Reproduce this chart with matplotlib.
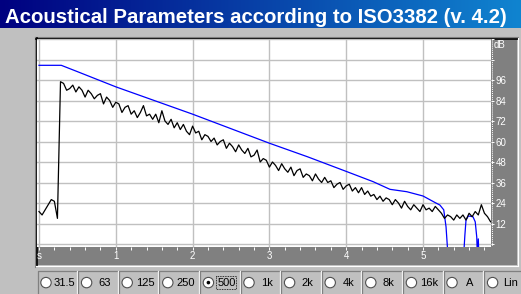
import matplotlib
matplotlib.use("Agg")
import matplotlib.pyplot as plt
import numpy as np
from matplotlib.patches import Rectangle, Circle
from matplotlib.colors import LinearSegmentedColormap

W, H = 521, 294

title = "Acoustical Parameters according to ISO3382 (v. 4.2)"

# impulse response level (dB), one value every 0.04 s
step = 0.04
level_db = [
    19, 17, 20, 23, 26, 25, 15,
    95, 94, 90, 91, 93, 89, 92, 90, 86, 90,
    88, 85, 87, 88, 82, 86, 84, 80, 83, 82,
    77, 80, 81, 76, 78, 74, 77, 81, 75, 76,
    73, 76, 71, 78, 72, 70, 73, 68, 71, 67,
    70, 66, 64, 69, 65, 66, 61, 64, 63, 60,
    62, 58, 60, 61, 56, 59, 57, 54, 58, 55,
    53, 56, 51, 52, 55, 48, 50, 49, 45, 48,
    46, 43, 47, 44, 42, 45, 40, 43, 44, 39,
    41, 40, 37, 41, 38, 36, 39, 36, 37, 33,
    35, 36, 32, 34, 35, 31, 33, 30, 33, 29,
    31, 28, 29, 26, 28, 25, 27, 26, 23, 26,
    24, 21, 25, 22, 20, 23, 21, 19, 23, 20,
    21, 19, 22, 20, 18, 15, 17, 16, 14, 17,
    15, 17, 14, 18, 16, 19, 17, 23, 18, 16,
    13,
]
level_t = np.arange(len(level_db)) * step

# backward integrated (Schroeder) curve
schroeder_t = [0.0, 0.29, 0.5, 1.0, 1.5, 2.0, 2.5, 3.0, 3.5, 4.0, 4.35, 4.57,
               4.79, 5.0, 5.16, 5.22, 5.27, 5.30, 5.33, np.nan,
               5.525, 5.545, 5.56, 5.59, 5.65, 5.68, 5.70, 5.71, 5.72, 5.73]
schroeder_db = [104.6, 104.6, 100.9, 92, 84, 76, 67.5, 59, 51, 42.5, 36.5, 32,
                30.6, 28.1, 24.2, 22.8, 20, 10, -10, np.nan,
                -10, 5, 14, 16.4, 16, 13, 4, -10, 3, -10]

db_ticks = [0, 12, 24, 36, 48, 60, 72, 84, 96, 108, 120]
db_labels = ["", "12", "24", "36", "48", "60", "72", "84", "96", "", ""]
sec_ticks = [0, 1, 2, 3, 4, 5]
sec_labels = ["s", "1", "2", "3", "4", "5"]

bands = ["31.5", "63", "125", "250", "500", "1k", "2k", "4k", "8k", "16k", "A", "Lin"]
selected = "500"

plt.rcParams["font.family"] = ["Liberation Sans", "DejaVu Sans"]

fig = plt.figure(figsize=(W / 100, H / 100), dpi=100)
fig.patch.set_facecolor("#c0c0c0")

# pixel-space layer for the window decorations
bg = fig.add_axes([0, 0, 1, 1], zorder=0)
bg.axis("off")
grad = LinearSegmentedColormap.from_list("bar", ["#000080", "#1084d0"])
bg.imshow(np.linspace(0, 1, 256)[None, :], extent=[0, W, 28, 0], cmap=grad,
          aspect="auto")
bg.set_xlim(0, W)
bg.set_ylim(H, 0)

ttl = bg.text(5, 23.3, title, color="white", fontweight="bold", fontsize=14.5,
              va="baseline", ha="left")

# sunken panel frame and axis strips
bg.add_patch(Rectangle((491, 39), 26, 226, fc="#808080", ec="none"))
bg.add_patch(Rectangle((36, 247), 481, 18, fc="#808080", ec="none"))
bg.plot([35, 35], [37, 267], color="#808080", lw=0.8)
bg.plot([35, 518], [37, 37], color="#808080", lw=0.8)
bg.plot([36.5, 36.5], [38, 266], color="black", lw=1.2)
bg.plot([36, 518], [38.5, 38.5], color="black", lw=1.2)
bg.plot([36, 518], [266, 266], color="white", lw=0.8)
bg.plot([517.5, 517.5], [38, 266], color="white", lw=0.8)
bg.plot([492, 492], [40, 246], color="white", lw=0.7, ls=(0, (1, 1)))
bg.text(494, 45, "dB", color="white", fontsize=7, va="center", ha="left")

# radio button row
box_w = 40.6
cy = 282.6
for i, name in enumerate(bands):
    x0 = 37.5 + i * box_w
    x1 = x0 + box_w - 1
    bg.plot([x0, x0, x1], [295, 271, 271], color="#808080", lw=0.9)
    bg.plot([x1, x1], [271, 295], color="white", lw=0.9)
    cx = x0 + 8.5
    bg.add_patch(Circle((cx, cy), 5.2, fc="white", ec="#505050", lw=0.8))
    if name == selected:
        bg.add_patch(Circle((cx, cy), 1.8, fc="black", ec="none"))
    tx = (cx + 5 + x1) / 2
    bg.text(tx, cy + 0.3, name, ha="center", va="center", fontsize=8, color="black")
    if name == selected:
        bg.add_patch(Rectangle((tx - 10, cy - 6.2), 20, 12.5, fill=False, ec="black",
                               lw=0.6, ls=(0, (1, 1))))

# chart
ax = fig.add_axes([37 / W, 1 - 247 / H, (491 - 37) / W, (247 - 38.5) / H], zorder=1)
ax.set_facecolor("white")
ax.plot(schroeder_t, schroeder_db, color="#0000ff", lw=0.9)
ax.plot(level_t, level_db, color="black", lw=0.9)
ax.set_xlim((37 - 39) / 76.8, (491 - 39) / 76.8)
ax.set_ylim((244 - 247) / 1.7083, (244 - 38.5) / 1.7083)

ax.set_xticks(sec_ticks)
ax.set_xticklabels(sec_labels)
ax.set_xticks(np.arange(0, 5.81, 0.2), minor=True)
ax.set_yticks(db_ticks)
ax.set_yticklabels(db_labels)
ax.yaxis.tick_right()
ax.grid(True, which="major", color="#c0c0c0", lw=1.0)
ax.set_axisbelow(True)
for s in ax.spines.values():
    s.set_visible(False)
ax.tick_params(axis="x", which="both", direction="out", length=2.5, width=0.7,
               color="white", labelcolor="white", labelsize=7, pad=0.5)
ax.tick_params(axis="y", which="both", direction="out", length=2.5, width=0.7,
               color="white", labelcolor="white", labelsize=7, pad=0.8)

# fit the title to the bar width
fig.canvas.draw()
bb = ttl.get_window_extent()
ttl.set_fontsize(14.5 * 503 / bb.width)

fig.savefig("out.png", dpi=100, facecolor=fig.get_facecolor())
